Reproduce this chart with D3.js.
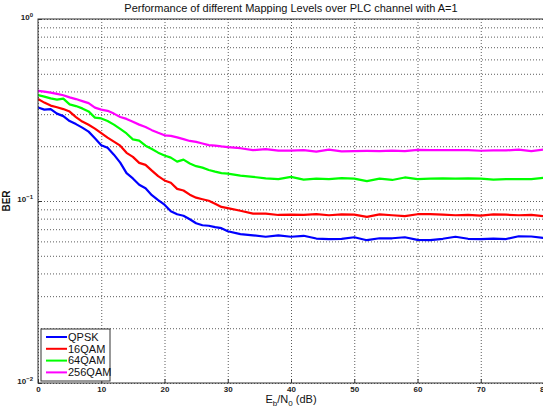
<!DOCTYPE html>
<html>
<head>
<meta charset="utf-8">
<script src="https://cdn.jsdelivr.net/npm/d3@7"></script>
<style>
  body { margin: 0; background: #fff; }
  svg { font-family: 'Liberation Sans', Arial, sans-serif; }
  .grid line { stroke: #333; stroke-dasharray: 1,2; stroke-width: 0.8; }
  .grid path { display: none; }
  .tick-lbl { font-size: 8px; fill: #222; }
</style>
</head>
<body>
<div id="chart"></div>
<script>
// Eb/N0 sample points (dB)
const ebn0 = [0, 1, 2, 3, 4, 5, 6, 7, 8, 9, 10, 11, 12, 13, 14, 15, 16, 17, 18, 19, 20,
  21, 22, 23, 24, 25, 26, 27, 28, 29, 30, 32, 34, 36, 38, 40, 42, 44, 46, 48, 50,
  52, 54, 56, 58, 60, 62, 64, 66, 68, 70, 72, 74, 76, 78, 80];

const qpsk = [0.3267, 0.3178, 0.3199, 0.3021, 0.2927, 0.2748, 0.2646, 0.2530, 0.2405, 0.2215, 0.2027,
  0.1959, 0.1798, 0.1624, 0.1422, 0.1330, 0.1229, 0.1176, 0.1076, 0.1010, 0.0954,
  0.0879, 0.0846, 0.0830, 0.0794, 0.0755, 0.0736, 0.0731, 0.0718, 0.0709, 0.0682,
  0.0658, 0.0648, 0.0636, 0.0647, 0.0636, 0.0644, 0.0622, 0.0617, 0.0620, 0.0632,
  0.0609, 0.0624, 0.0624, 0.0632, 0.0612, 0.0609, 0.0620, 0.0636, 0.0620, 0.0618,
  0.0622, 0.0618, 0.0640, 0.0638, 0.0627];

const qam16 = [0.3631, 0.3473, 0.3344, 0.3272, 0.3199, 0.3099, 0.2890, 0.2731, 0.2622, 0.2498, 0.2360,
  0.2229, 0.2119, 0.2014, 0.1839, 0.1748, 0.1620, 0.1580, 0.1468, 0.1369, 0.1297,
  0.1261, 0.1166, 0.1142, 0.1083, 0.1043, 0.1023, 0.1003, 0.0966, 0.0928, 0.0913,
  0.0884, 0.0853, 0.0853, 0.0838, 0.0841, 0.0839, 0.0846, 0.0835, 0.0844, 0.0841,
  0.0818, 0.0844, 0.0835, 0.0825, 0.0846, 0.0846, 0.0841, 0.0835, 0.0839, 0.0832,
  0.0844, 0.0841, 0.0835, 0.0839, 0.0825];

const qam64 = [0.3819, 0.3747, 0.3663, 0.3607, 0.3653, 0.3395, 0.3323, 0.3227, 0.3107, 0.2872, 0.2843,
  0.2754, 0.2628, 0.2489, 0.2351, 0.2180, 0.2147, 0.2014, 0.1932, 0.1843, 0.1780,
  0.1731, 0.1645, 0.1687, 0.1608, 0.1554, 0.1525, 0.1481, 0.1449, 0.1422, 0.1413,
  0.1378, 0.1357, 0.1331, 0.1318, 0.1357, 0.1310, 0.1327, 0.1318, 0.1337, 0.1328,
  0.1285, 0.1328, 0.1305, 0.1347, 0.1318, 0.1327, 0.1331, 0.1327, 0.1330, 0.1327,
  0.1312, 0.1318, 0.1321, 0.1318, 0.1340];

const qam256 = [0.4033, 0.3993, 0.3942, 0.3878, 0.3810, 0.3710, 0.3631, 0.3540, 0.3451, 0.3259, 0.3178,
  0.3130, 0.3021, 0.2897, 0.2825, 0.2724, 0.2628, 0.2553, 0.2451, 0.2369, 0.2295,
  0.2278, 0.2235, 0.2187, 0.2138, 0.2111, 0.2071, 0.2027, 0.2017, 0.1994, 0.1976,
  0.1950, 0.1903, 0.1927, 0.1891, 0.1891, 0.1903, 0.1867, 0.1915, 0.1872, 0.1881,
  0.1884, 0.1881, 0.1891, 0.1879, 0.1908, 0.1903, 0.1903, 0.1903, 0.1903, 0.1888,
  0.1896, 0.1896, 0.1915, 0.1881, 0.1919];

const seriesNames = ['QPSK', '16QAM', '64QAM', '256QAM'];
const seriesValues = [qpsk, qam16, qam64, qam256];
const seriesColors = ['#0000ff', '#ff0000', '#00ff00', '#ff00ff'];

const xTicks = [0, 10, 20, 30, 40, 50, 60, 70, 80];
const yMajor = [1e-2, 1e-1, 1];
const yMinor = [0.02, 0.03, 0.04, 0.05, 0.06, 0.07, 0.08, 0.09, 0.2, 0.3, 0.4, 0.5, 0.6, 0.7, 0.8, 0.9];

const W = 543, H = 409;
const margin = { top: 19, left: 38, right: -1, bottom: 26 };
const width = W - margin.left - margin.right;
const height = H - margin.top - margin.bottom;

const svg = d3.select('#chart').append('svg')
  .attr('width', W)
  .attr('height', H);

const g = svg.append('g')
  .attr('transform', `translate(${margin.left},${margin.top})`);

const x = d3.scaleLinear().domain([0, 80]).range([0, width]);
const y = d3.scaleLog().domain([1e-2, 1]).range([height, 0]);

// grid lines
g.append('g').attr('class', 'grid')
  .call(d3.axisLeft(y).tickValues(yMajor.concat(yMinor)).tickSize(-width).tickFormat(''));
g.append('g').attr('class', 'grid')
  .attr('transform', `translate(0,${height})`)
  .call(d3.axisBottom(x).tickValues(xTicks).tickSize(-height).tickFormat(''));

// curves
const line = d3.line()
  .x((d, i) => x(ebn0[i]))
  .y(d => y(d));

g.append('defs').append('clipPath').attr('id', 'clip')
  .append('rect').attr('width', width).attr('height', height);

g.append('g').attr('clip-path', 'url(#clip)')
  .selectAll('path')
  .data(seriesValues)
  .enter()
  .append('path')
  .attr('d', line)
  .attr('fill', 'none')
  .attr('stroke', (d, i) => seriesColors[i])
  .attr('stroke-width', 2.2)
  .attr('stroke-linejoin', 'round');

// box
g.append('rect')
  .attr('width', width).attr('height', height)
  .attr('fill', 'none').attr('stroke', '#333').attr('stroke-width', 1);

// x axis ticks + labels
const xAxis = g.append('g')
  .attr('transform', `translate(0,${height})`)
  .call(d3.axisBottom(x).tickValues(xTicks).tickSize(-4).tickPadding(3).tickFormat(d3.format('d')));
xAxis.select('.domain').remove();
xAxis.selectAll('line').attr('stroke', '#333');
xAxis.selectAll('text').attr('class', 'tick-lbl').style('font-weight', 'bold').attr('font-size', null);

// y axis labels 10^n
const yAxis = g.append('g')
  .call(d3.axisLeft(y).tickValues(yMajor).tickSize(-4).tickPadding(5).tickFormat(''));
yAxis.select('.domain').remove();
yAxis.selectAll('line').attr('stroke', '#333');
yAxis.selectAll('.tick text').each(function(d) {
  const t = d3.select(this).attr('class', 'tick-lbl').attr('font-size', null)
    .style('font-weight', 'bold').attr('dy', '0.1em');
  t.append('tspan').text('10');
  t.append('tspan').attr('dy', '-0.6em').attr('font-size', '6px')
    .text(String(Math.round(Math.log10(d))).replace('-', '\u2212'));
});

// title
svg.append('text')
  .attr('x', margin.left + width / 2)
  .attr('y', 12)
  .attr('text-anchor', 'middle')
  .attr('font-size', '11px')
  .attr('fill', '#111')
  .text('Performance of different Mapping Levels over PLC channel with A=1');

// x label
const xl = svg.append('text')
  .attr('x', margin.left + width / 2)
  .attr('y', 403)
  .attr('text-anchor', 'middle')
  .attr('font-size', '11px')
  .attr('fill', '#111');
xl.append('tspan').text('E');
xl.append('tspan').attr('dy', '3').attr('font-size', '8px').text('b');
xl.append('tspan').attr('dy', '-3').text('/N');
xl.append('tspan').attr('dy', '3').attr('font-size', '8px').text('0');
xl.append('tspan').attr('dy', '-3').text(' (dB)');

// y label
svg.append('text')
  .attr('transform', `translate(10,${margin.top + height / 2}) rotate(-90)`)
  .attr('text-anchor', 'middle')
  .attr('font-size', '10px')
  .attr('font-weight', 'bold')
  .attr('fill', '#111')
  .text('BER');

// legend
const legend = svg.append('g').attr('transform', 'translate(41,329)');
legend.append('rect')
  .attr('width', 69).attr('height', 52)
  .attr('fill', '#fff').attr('stroke', '#333').attr('stroke-width', 1);
const items = legend.selectAll('.item')
  .data(seriesNames)
  .enter()
  .append('g')
  .attr('transform', (d, i) => `translate(0,${8 + i * 11.8})`);
items.append('line')
  .attr('x1', 5).attr('x2', 26)
  .attr('stroke', (d, i) => seriesColors[i])
  .attr('stroke-width', 2);
items.append('text')
  .attr('x', 27).attr('dy', '0.35em')
  .attr('font-size', '11px')
  .attr('fill', '#111')
  .text(d => d);
</script>
</body>
</html>
